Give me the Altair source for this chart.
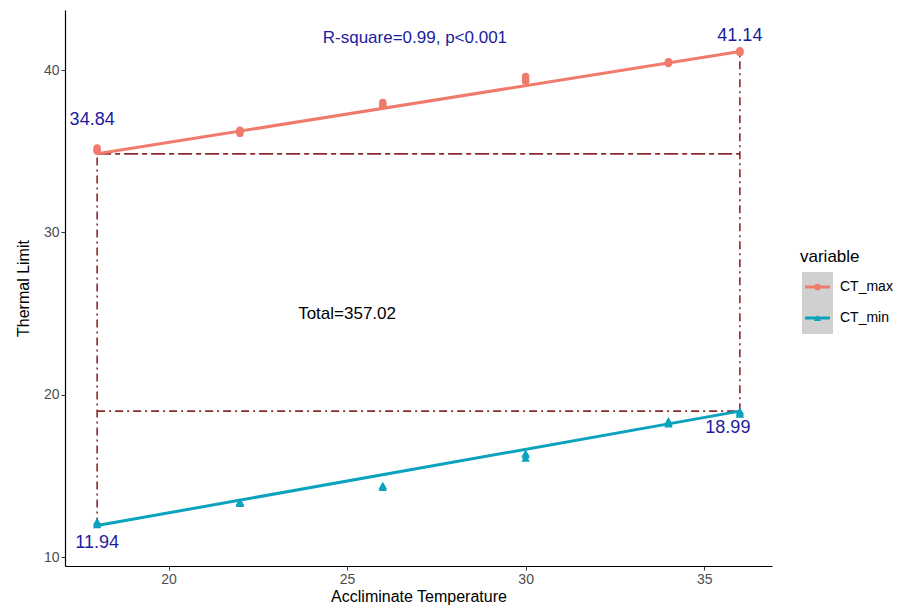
import altair as alt
import pandas as pd

# ---- data ----
temps = [18, 18, 18, 22, 22, 22, 26, 26, 26, 30, 30, 30, 34, 34, 34, 36, 36, 36]
ct_max = [35.0, 35.1, 35.2, 36.1, 36.2, 36.3, 37.8, 37.9, 38.0, 39.3, 39.4, 39.6, 40.4, 40.5, 40.5, 41.1, 41.1, 41.2]
ct_min = [12.0, 12.1, 12.2, 13.3, 13.4, 13.4, 14.3, 14.4, 14.4, 16.1, 16.3, 16.4, 18.2, 18.3, 18.4, 18.8, 18.9, 19.0]

fit_x = [18, 36]
fit_max = [34.84, 41.14]
fit_min = [11.94, 18.99]

x_ticks = [20, 25, 30, 35]
y_ticks = [10, 20, 30, 40]

label_text = ["34.84", "41.14", "11.94", "18.99"]
label_x = [18, 36, 18, 36]
label_y = [34.84, 41.14, 11.94, 18.99]

annot_text = ["R-square=0.99, p<0.001", "Total=357.02"]
annot_x = [26.9, 25.0]
annot_y = [41.97, 25.0]

series_names = ["CT_max", "CT_min"]
series_colors = ["#F07A6B", "#0AA2BD"]

FONT = "Liberation Sans"
BLUE = "#1C1CA0"
DASH = "#8B2A2A"

pts = pd.DataFrame({
    "x": temps * 2,
    "y": ct_max + ct_min,
    "variable": ["CT_max"] * len(temps) + ["CT_min"] * len(temps),
})
fits = pd.DataFrame({
    "x": fit_x * 2,
    "y": fit_max + fit_min,
    "variable": ["CT_max"] * 2 + ["CT_min"] * 2,
})

xs = alt.Scale(domain=[17.1, 36.9], nice=False, zero=False)
ys = alt.Scale(domain=[9.45, 43.7], nice=False, zero=False)
color = alt.Scale(domain=series_names, range=series_colors)

xax = alt.Axis(values=x_ticks, title="Accliminate Temperature", grid=False)
yax = alt.Axis(values=y_ticks, title="Thermal Limit", grid=False)

base_pts = alt.Chart(pts)

pmax = base_pts.transform_filter("datum.variable == 'CT_max'").mark_point(
    shape="circle", filled=True, size=55, opacity=1
).encode(
    x=alt.X("x:Q", scale=xs, axis=xax),
    y=alt.Y("y:Q", scale=ys, axis=yax),
    color=alt.Color("variable:N", scale=color, legend=None),
)
pmin = base_pts.transform_filter("datum.variable == 'CT_min'").mark_point(
    shape="triangle-up", filled=True, size=70, opacity=1
).encode(
    x=alt.X("x:Q", scale=xs),
    y=alt.Y("y:Q", scale=ys),
    color=alt.Color("variable:N", scale=color, legend=None),
)

lines = alt.Chart(fits).mark_line(strokeWidth=3).encode(
    x=alt.X("x:Q", scale=xs),
    y=alt.Y("y:Q", scale=ys),
    color=alt.Color("variable:N", scale=color, legend=None),
    detail="variable:N",
)

# reference segments
hseg = pd.DataFrame({
    "x": [fit_x[0], fit_x[0]],
    "x2": [fit_x[1], fit_x[1]],
    "y": [fit_max[0], fit_min[1]],
    "kind": ["top", "bottom"],
})
vseg = pd.DataFrame({
    "x": [fit_x[0], fit_x[1]],
    "y": [fit_min[0], fit_min[1]],
    "y2": [fit_max[0], fit_max[1]],
})

h_top = alt.Chart(hseg).transform_filter("datum.kind == 'top'").mark_rule(
    color=DASH, strokeWidth=1.6, strokeDash=[14, 4, 5, 4]
).encode(x=alt.X("x:Q", scale=xs), x2="x2:Q", y=alt.Y("y:Q", scale=ys))
h_bot = alt.Chart(hseg).transform_filter("datum.kind == 'bottom'").mark_rule(
    color=DASH, strokeWidth=1.6, strokeDash=[8, 4, 2, 4]
).encode(x=alt.X("x:Q", scale=xs), x2="x2:Q", y=alt.Y("y:Q", scale=ys))
v_rules = alt.Chart(vseg).mark_rule(
    color=DASH, strokeWidth=1.6, strokeDash=[8, 4, 2, 4]
).encode(x=alt.X("x:Q", scale=xs), y=alt.Y("y:Q", scale=ys), y2="y2:Q")

# value labels
lab = pd.DataFrame({"t": label_text, "x": label_x, "y": label_y})
lab_specs = [(0, -5, -34), (1, 0, -16), (2, 0, 17), (3, -12, 17)]
label_layers = []
for i, dx, dy in lab_specs:
    label_layers.append(
        alt.Chart(lab.iloc[[i]]).mark_text(
            font=FONT, fontSize=18, color=BLUE, dx=dx, dy=dy, align="center", baseline="middle"
        ).encode(x=alt.X("x:Q", scale=xs), y=alt.Y("y:Q", scale=ys), text="t:N")
    )

ann = pd.DataFrame({"t": annot_text, "x": annot_x, "y": annot_y, "c": [BLUE, "#000000"]})
ann_layer = alt.Chart(ann).mark_text(
    font=FONT, fontSize=17, align="center", baseline="middle"
).encode(
    x=alt.X("x:Q", scale=xs), y=alt.Y("y:Q", scale=ys), text="t:N",
    color=alt.Color("c:N", scale=None),
)

# manual legend (ggplot style, grey key background)
leg_title = alt.Chart(pd.DataFrame({"t": ["variable"]})).mark_text(
    font=FONT, fontSize=17, align="left", baseline="middle", color="#000000"
).encode(x=alt.value(735), y=alt.value(247), text="t:N")
leg_box = alt.Chart(pd.DataFrame({"a": [1]})).mark_rect(color="#D0D0D0").encode(
    x=alt.value(737), x2=alt.value(768), y=alt.value(262), y2=alt.value(324)
)
leg_df = pd.DataFrame({"variable": series_names, "yp": [277, 308], "x1": [740] * 2, "x2": [765] * 2})
leg_lines = alt.Chart(leg_df).mark_rule(strokeWidth=3).encode(
    x=alt.X("x1:Q", scale=None), x2="x2:Q", y=alt.Y("yp:Q", scale=None),
    color=alt.Color("variable:N", scale=color, legend=None),
)
leg_pt_max = alt.Chart(leg_df.iloc[[0]]).mark_point(shape="circle", filled=True, size=45, opacity=1).encode(
    x=alt.value(752.5), y=alt.Y("yp:Q", scale=None),
    color=alt.Color("variable:N", scale=color, legend=None),
)
leg_pt_min = alt.Chart(leg_df.iloc[[1]]).mark_point(shape="triangle-up", filled=True, size=50, opacity=1).encode(
    x=alt.value(752.5), y=alt.Y("yp:Q", scale=None),
    color=alt.Color("variable:N", scale=color, legend=None),
)
leg_text = alt.Chart(leg_df).mark_text(
    font=FONT, fontSize=14, align="left", baseline="middle", color="#000000"
).encode(x=alt.value(775), y=alt.Y("yp:Q", scale=None), text="variable:N")

chart = alt.layer(
    h_top, h_bot, v_rules, lines, pmax, pmin, *label_layers, ann_layer,
    leg_box, leg_lines, leg_pt_max, leg_pt_min, leg_text, leg_title,
).resolve_scale(color="shared").properties(
    width=707, height=556,
    autosize=alt.AutoSizeParams(type="none"),
    padding={"left": 57, "top": 2, "right": 124, "bottom": 41},
).configure_view(stroke=None, clip=False).configure_axis(
    domainColor="#000000", domainWidth=1.2, tickColor="#333333", tickSize=4,
    labelColor="#4D4D4D", labelFontSize=14, labelFont=FONT,
    titleFont=FONT, titleFontSize=16, titleFontWeight="normal", titleColor="#000000",
    labelPadding=2,
).configure_axisX(titlePadding=2).configure_axisY(titlePadding=12)

chart.save("out.html", embed_options={"renderer": "svg", "actions": False})
